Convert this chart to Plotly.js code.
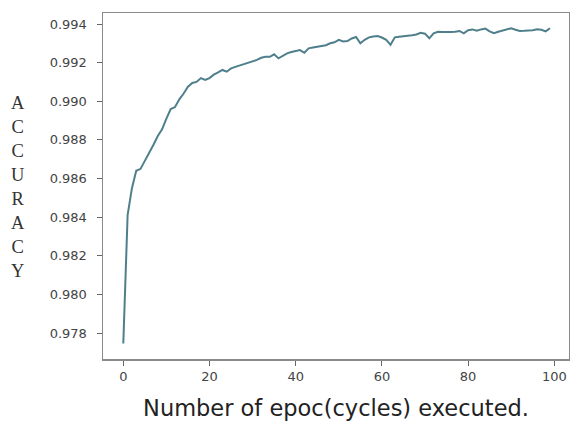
<!DOCTYPE html>
<html>
<head>
<meta charset="utf-8">
<script src="https://cdn.plot.ly/plotly-3.0.1.min.js"></script>
<style>html,body{margin:0;padding:0;background:#fff;}#chart{width:570px;height:426px;}</style>
</head>
<body>
<div id="chart"></div>
<script>
const epochs = Array.from({length: 100}, (_, i) => i);
const accuracy = [
  0.97746, 0.98410, 0.98550, 0.98640, 0.98650, 0.98690, 0.98730, 0.98775, 0.98820, 0.98855,
  0.98910, 0.98960, 0.98970, 0.99010, 0.99040, 0.99075, 0.99095, 0.99100, 0.99120, 0.99110,
  0.99120, 0.99138, 0.99150, 0.99162, 0.99153, 0.99170, 0.99178, 0.99185, 0.99190, 0.99198,
  0.99205, 0.99214, 0.99225, 0.99230, 0.99230, 0.99243, 0.99222, 0.99235, 0.99248, 0.99255,
  0.99260, 0.99265, 0.99251, 0.99274, 0.99278, 0.99282, 0.99287, 0.99290, 0.99300, 0.99305,
  0.99318, 0.99310, 0.99312, 0.99325, 0.99333, 0.99300, 0.99318, 0.99331, 0.99335, 0.99338,
  0.99330, 0.99318, 0.99292, 0.99331, 0.99334, 0.99336, 0.99338, 0.99342, 0.99346, 0.99355,
  0.99350, 0.99326, 0.99352, 0.99360, 0.99358, 0.99357, 0.99358, 0.99360, 0.99364, 0.99352,
  0.99368, 0.99372, 0.99365, 0.99372, 0.99376, 0.99362, 0.99352, 0.99360, 0.99365, 0.99372,
  0.99378, 0.99370, 0.99364, 0.99365, 0.99365, 0.99368, 0.99373, 0.99370, 0.99362, 0.99378
];
const yTickVals = [0.978, 0.980, 0.982, 0.984, 0.986, 0.988, 0.990, 0.992, 0.994];
const yTickText = ["0.978", "0.980", "0.982", "0.984", "0.986", "0.988", "0.990", "0.992", "0.994"];
const xTickVals = [0, 20, 40, 60, 80, 100];
const xTitle = "Number of epoc(cycles) executed.";
const yTitleLetters = ["A", "C", "C", "U", "R", "A", "C", "Y"];

const trace = {
  x: epochs,
  y: accuracy,
  type: "scatter",
  mode: "lines",
  line: {color: "#4f7f8b", width: 2},
  hoverinfo: "skip"
};

const layout = {
  width: 570,
  height: 426,
  margin: {l: 103, r: 1, t: 13, b: 67, pad: 0},
  paper_bgcolor: "#ffffff",
  plot_bgcolor: "#ffffff",
  showlegend: false,
  xaxis: {
    range: [-4.71, 103.41],
    tickvals: xTickVals,
    ticks: "outside",
    ticklen: 5,
    tickwidth: 1,
    tickcolor: "#666",
    showgrid: false,
    zeroline: false,
    showline: true,
    mirror: true,
    linecolor: "#8a8a8a",
    linewidth: 1.5,
    tickfont: {family: "DejaVu Sans", size: 13, color: "#444"},
    title: {text: xTitle, font: {family: "DejaVu Sans", size: 22.5, color: "#222"}, standoff: 17}
  },
  yaxis: {
    range: [0.976654, 0.994570],
    tickvals: yTickVals,
    ticktext: yTickText,
    ticks: "outside",
    ticklen: 5,
    tickwidth: 1,
    tickcolor: "#666",
    ticklabelstandoff: 7,
    showgrid: false,
    zeroline: false,
    showline: true,
    mirror: true,
    linecolor: "#8a8a8a",
    linewidth: 1.5,
    tickfont: {family: "DejaVu Sans", size: 13, color: "#444"}
  },
  annotations: [{
    xref: "paper", yref: "paper",
    x: -0.1824, y: 0.4957,
    xanchor: "center", yanchor: "middle",
    showarrow: false,
    align: "center",
    text: yTitleLetters.join("<br>"),
    font: {family: "Liberation Serif", size: 18.5, color: "#333"}
  }]
};

Plotly.newPlot("chart", [trace], layout, {displayModeBar: false, staticPlot: true});
</script>
</body>
</html>
